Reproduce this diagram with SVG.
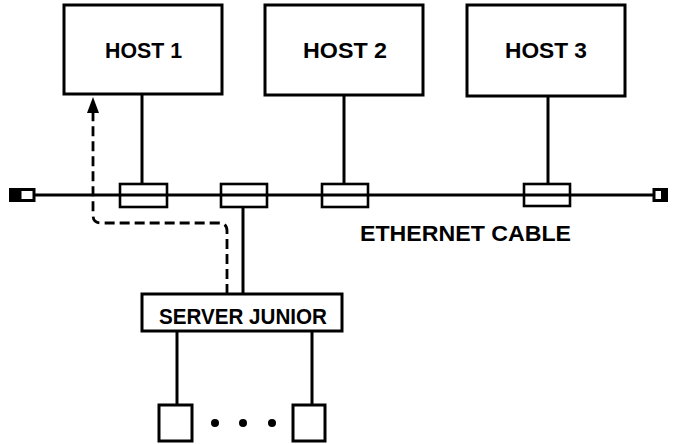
<svg xmlns="http://www.w3.org/2000/svg" width="673" height="444" viewBox="0 0 673 444">
<style>
.box{fill:#fff;stroke:#000;stroke-width:3}
.tap{fill:#fff;stroke:#000;stroke-width:2.6}
.ln{fill:none;stroke:#000;stroke-width:3}
.dash{fill:none;stroke:#000;stroke-width:2.8;stroke-dasharray:10 5}
.t{font-family:"Liberation Sans",Arial,sans-serif;font-weight:bold;font-size:22px;fill:#000}
</style>
<defs>
<marker id="ah" markerUnits="userSpaceOnUse" markerWidth="12" markerHeight="16" refX="6" refY="0" orient="auto" viewBox="0 0 12 16" overflow="visible">
<path d="M0,16 L6,0 L12,16 Z" fill="#000"/>
</marker>
</defs>
<rect width="673" height="444" fill="#fff"/>
<g id="connectors">
<line class="ln" x1="35" y1="195" x2="654" y2="195" stroke-width="2.6"/>
<line class="ln" x1="142" y1="94" x2="142" y2="184"/>
<line class="ln" x1="344" y1="95" x2="344" y2="184"/>
<line class="ln" x1="548" y1="96" x2="548" y2="183"/>
<line class="ln" x1="243" y1="207" x2="243" y2="294"/>
<line class="ln" x1="177" y1="331" x2="177" y2="405"/>
<line class="ln" x1="312" y1="331" x2="312" y2="405"/>
<path class="dash" d="M227,294 V231 Q227,223 219,223 H101 Q93,223 93,215 V112"/>
<path d="M87,113 L93,97 L99,113 Z" fill="#000"/>
</g>
<g id="term-left">
<rect x="9" y="188" width="13" height="14" fill="#000"/>
<rect x="20" y="189.5" width="14" height="11" fill="#fff" stroke="#000" stroke-width="3"/>
</g>
<g id="term-right">
<rect x="654" y="189.5" width="9" height="11" fill="#fff" stroke="#000" stroke-width="3"/>
<rect x="661" y="188" width="7" height="14" fill="#000"/>
</g>
<g id="tap1"><rect class="tap" x="120" y="184" width="47" height="23"/><line class="ln" x1="120" y1="195" x2="167" y2="195" stroke-width="2.6"/></g>
<g id="tap2"><rect class="tap" x="221" y="184" width="46" height="23"/><line class="ln" x1="221" y1="195" x2="267" y2="195" stroke-width="2.6"/></g>
<g id="tap3"><rect class="tap" x="322" y="184" width="46" height="23"/><line class="ln" x1="322" y1="195" x2="368" y2="195" stroke-width="2.6"/></g>
<g id="tap4"><rect class="tap" x="524" y="184" width="46" height="22"/><line class="ln" x1="524" y1="195" x2="570" y2="195" stroke-width="2.6"/></g>
<g id="host1">
<rect class="box" x="64" y="5" width="158" height="89"/>
<text class="t" x="105" y="58" textLength="77" lengthAdjust="spacingAndGlyphs">HOST 1</text>
</g>
<g id="host2">
<rect class="box" x="265" y="5" width="158" height="90"/>
<text class="t" x="303" y="58" textLength="84" lengthAdjust="spacingAndGlyphs">HOST 2</text>
</g>
<g id="host3">
<rect class="box" x="467" y="5" width="158" height="91"/>
<text class="t" x="505" y="58" textLength="82" lengthAdjust="spacingAndGlyphs">HOST 3</text>
</g>
<g id="ethernet-label">
<text class="t" x="360" y="241" font-size="24" textLength="211" lengthAdjust="spacingAndGlyphs">ETHERNET CABLE</text>
</g>
<g id="server">
<rect class="box" x="142" y="294" width="200" height="37"/>
<text class="t" x="159" y="324" textLength="168" lengthAdjust="spacingAndGlyphs">SERVER JUNIOR</text>
</g>
<g id="dev1"><rect class="box" x="159" y="405" width="33" height="36"/></g>
<g id="dev2"><rect class="box" x="293" y="405" width="32" height="36"/></g>
<g id="dots">
<circle cx="215" cy="423" r="4"/>
<circle cx="243" cy="423" r="4"/>
<circle cx="272" cy="423" r="4"/>
</g>
</svg>
